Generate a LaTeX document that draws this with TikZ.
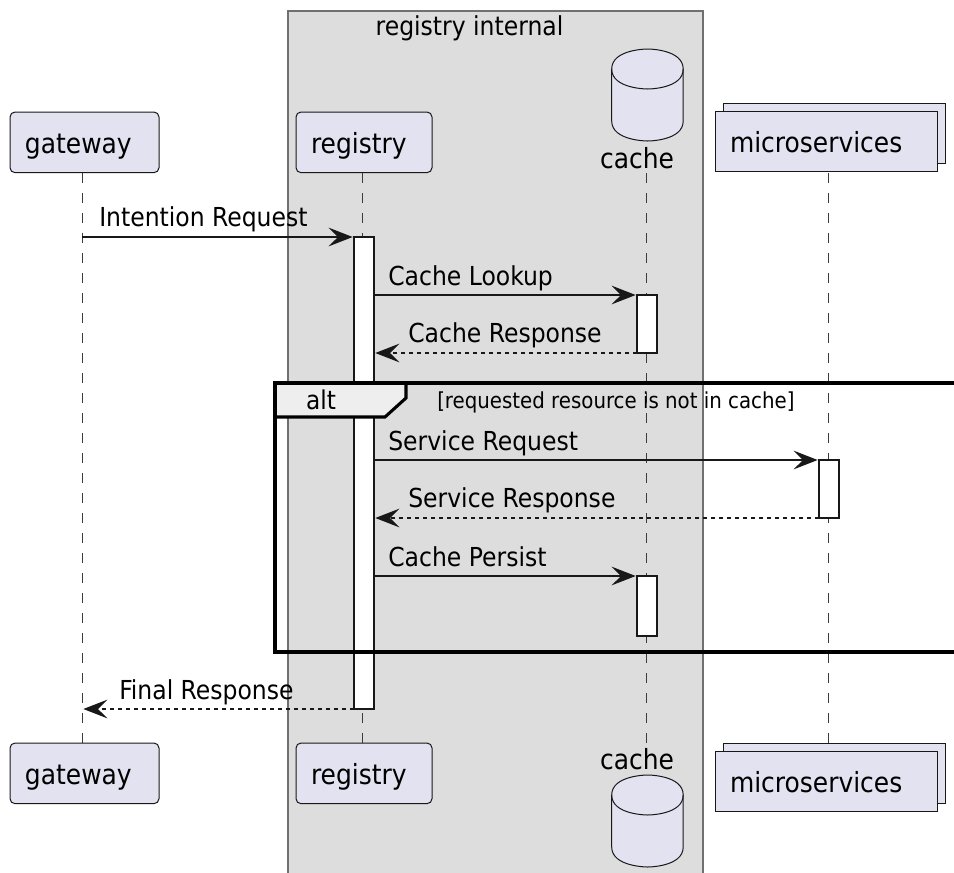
\documentclass[tikz,border=0pt]{standalone}
\usepackage{xcolor}
\usepackage{fontspec}
\setmainfont{DejaVu Sans Condensed}
\usetikzlibrary{arrows.meta}
\definecolor{partfill}{HTML}{E2E2F0}
\definecolor{boxfill}{HTML}{DDDDDD}
\definecolor{boxline}{HTML}{707070}
\definecolor{inkline}{HTML}{181818}
\definecolor{tabfill}{HTML}{EEEEEE}

\tikzset{
  head/.style={draw=inkline,fill=partfill,line width=.75pt,anchor=north west,align=left,outer sep=0pt,
    inner xsep=11.25pt,inner ysep=7.75pt,text height=23.2pt,text depth=6.8pt,font=\fontsize{20.8pt}{24pt}\selectfont},
  bar/.style={draw=inkline,fill=white,line width=1.2pt,anchor=north west,inner sep=0,outer sep=0pt,minimum width=15pt},
  msg/.style={anchor=base west,inner sep=0,font=\fontsize{19.6pt}{22pt}\selectfont},
  call/.style={draw=inkline,line width=1.5pt,-{Stealth[length=18pt,width=14pt,inset=7pt,line width=1pt]},shorten >=1pt},
  reply/.style={call,dash pattern=on 3pt off 3pt},
  cachedb/.pic={
    \draw[draw=inkline,fill=partfill,line width=.75pt] (0,20) .. controls (0,0) and (36,0) .. (36,0)
      .. controls (36,0) and (71.5,0) .. (71.5,20) -- (71.5,72)
      .. controls (71.5,92) and (36,92) .. (36,92) .. controls (36,92) and (0,92) .. (0,72) -- cycle;
    \draw[draw=inkline,line width=.75pt] (0,20) .. controls (0,40) and (36,40) .. (36,40)
      .. controls (36,40) and (71.5,40) .. (71.5,20);
  }
}

\begin{document}
\begin{tikzpicture}[x=.75pt,y=-.75pt]
\useasboundingbox (0,0) rectangle (954,872);
\clip (0,0) rectangle (954,872);

% box behind everything
\node[draw=boxline,fill=boxfill,line width=1.2pt,anchor=north west,inner sep=0,outer sep=0pt,minimum width=311.25pt,minimum height=660pt] (internalbox) at (288,11) {};
\node[anchor=base,inner sep=0,font=\fontsize{19.6pt}{22pt}\selectfont] (internaltitle) at (469.5,35) {registry internal};

% life lines
\foreach \lname/\lx in {gateway/82,registry/362,cache/646,micro/828}
{
  \coordinate (\lname a) at (\lx,173);
  \coordinate (\lname b) at (\lx,744);
  \draw[draw=inkline!85,line width=.7pt,dash pattern=on 7.5pt off 7.5pt] (\lname a) -- (\lname b);
}

% heads
\node[head,rounded corners=3.75pt,text width=89.25pt] (gatewaytop) at (10,112) {gateway};
\node[head,rounded corners=3.75pt,text width=79.5pt] (registrytop) at (296,112) {registry};
\node[head,text width=144pt] (microback) at (723,103) {\phantom{m}};
\node[head,text width=144pt] (microtop) at (715,111) {microservices};
\pic at (611.7,49) {cachedb};
\node[anchor=base,inner sep=0,font=\fontsize{20.8pt}{24pt}\selectfont] (cachetop) at (637,168) {cache};

\node[head,rounded corners=3.75pt,text width=89.25pt] (gatewaybot) at (10,743) {gateway};
\node[head,rounded corners=3.75pt,text width=79.5pt] (registrybot) at (296,743) {registry};
\node[head,text width=144pt] (microbackb) at (723,743) {\phantom{m}};
\node[head,text width=144pt] (microbot) at (715,751) {microservices};
\pic at (611.7,775) {cachedb};
\node[anchor=base,inner sep=0,font=\fontsize{20.8pt}{24pt}\selectfont] (cachebot) at (637,769) {cache};

% activations
\node[bar,minimum height=354pt] (registrybar) at (354,237) {};
\node[bar,minimum height=43.5pt] (cachebar) at (637,295) {};
\node[bar,minimum height=43.5pt] (microbar) at (819,460) {};
\node[bar,minimum height=45pt] (persistbar) at (637,576) {};

% messages
\draw[call] (gatewaya |- registrybar.north west) -- (registrybar.north west);
\draw[call] (registrybar.east |- cachebar.north west) -- (cachebar.north west);
\draw[reply] (cachebar.south west) -- (registrybar.east |- cachebar.south west);
\draw[call] (registrybar.east |- microbar.north west) -- (microbar.north west);
\draw[reply] (microbar.south west) -- (registrybar.east |- microbar.south west);
\draw[call] (registrybar.east |- persistbar.north west) -- (persistbar.north west);
\draw[reply] (registrybar.south west) -- (gatewaya |- registrybar.south west);

\node[msg] (intentionlabel) at (99,226.7) {Intention Request};
\node[msg] (lookuplabel) at (388,285.7) {Cache Lookup};
\node[msg] (responselabel) at (408,342.7) {Cache Response};
\node[msg] (servicelabel) at (388,450.5) {Service Request};
\node[msg] (answerlabel) at (408,507.7) {Service Response};
\node[msg] (persistlabel) at (388,566.7) {Cache Persist};
\node[msg] (finallabel) at (119,699.7) {Final Response};

% alt frame
\draw[draw=black,fill=tabfill,line width=2.3pt] (275,383) -- (406,383) -- (406,398) -- (385,417) -- (275,417) -- cycle;
\draw[draw=black,line width=2.3pt] (958,383) -- (275,383) -- (275,652) -- (958,652);
\node[anchor=base,inner sep=0,font=\fontsize{19.4pt}{22pt}\selectfont] (altlabel) at (321,409) {alt};
\node[anchor=base west,inner sep=0,font=\fontsize{16.5pt}{18pt}\selectfont] (altguard) at (437,408) {[requested resource is not in cache]};
\end{tikzpicture}
\end{document}
